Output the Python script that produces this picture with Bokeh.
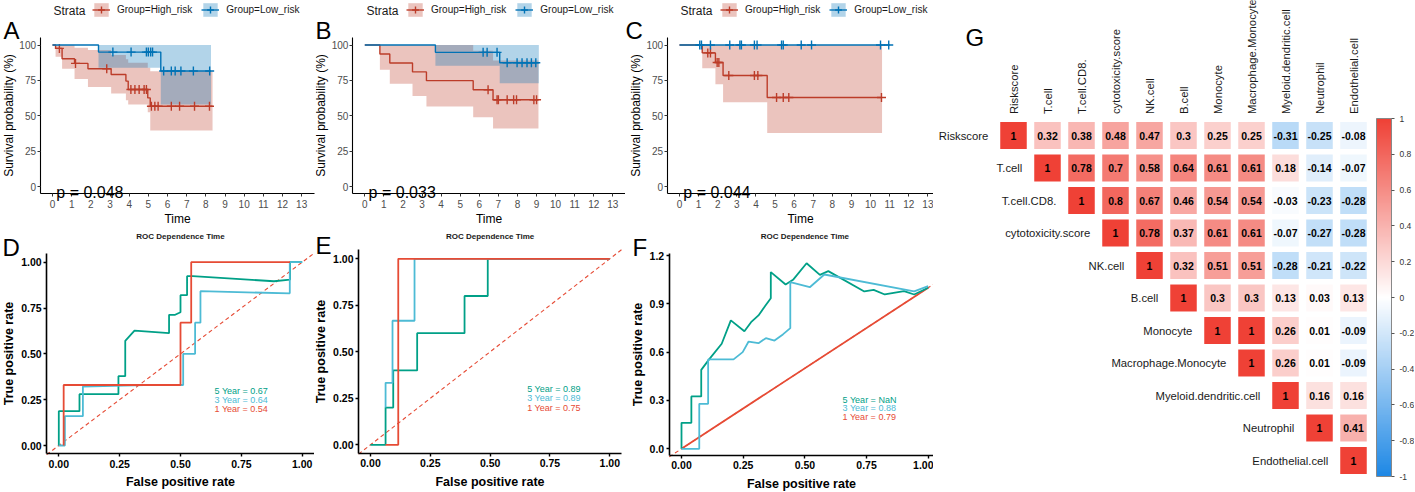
import numpy as np
from bokeh.plotting import figure
from bokeh.models import (Range1d, FixedTicker, Label, Legend, LegendItem, ColorBar,
                          LinearColorMapper, ColumnDataSource, NumeralTickFormatter)
from bokeh.layouts import row, column
from bokeh.embed import file_html
from bokeh.resources import INLINE
from bokeh.core.properties import value
from bokeh.transform import linear_cmap

FONT = "Liberation Sans"
RED_KM, BLUE_KM = "#BC3C29", "#0072B5"
C5, C3, C1 = "#00A087", "#4DBBD5", "#E64B35"

# ---------------- Kaplan-Meier data ----------------
A_high_t = [0, 0.16, 0.5, 1.15, 1.85, 3.06, 3.83, 3.95, 4.97, 5.1, 8.35]
A_high_s = [100, 97.6, 90.3, 87, 83.2, 79.2, 74.5, 68.6, 62.6, 56.7, 56.7]
A_high_lo = [100, 91.7, 83.2, 76, 70.4, 65.7, 61, 58, 52.5, 39.5, 39.5]
A_high_hi = [100, 100, 100, 98, 96.5, 93, 90, 87.5, 84, 81.5, 81.5]
A_high_cens = [0.36, 1.2, 2.83, 4.09, 4.3, 4.52, 4.78, 4.9, 5.16, 5.34, 5.51, 6.2, 6.63, 7.41, 8.19]
A_low_t = [0, 2.4, 5.65, 8.27]
A_low_s = [100, 95, 81.6, 81.6]
A_low_lo = [100, 84, 58, 58]
A_low_hi = [100, 100, 100, 100]
A_low_cens = [3.15, 4.1, 4.9, 5.0, 5.12, 5.22, 5.8, 6.2, 6.4, 6.7, 7.35, 8.2]
A_pval = "p = 0.048"

B_high_t = [0, 0.79, 1.31, 2.5, 3.23, 5.68, 6.72, 9.1]
B_high_s = [100, 93.6, 87.3, 81, 74.8, 68.4, 61.3, 61.3]
B_high_lo = [100, 82.5, 72.6, 63.9, 56.6, 49, 41, 41]
B_high_hi = [100, 100, 100, 100, 100, 96, 89, 89]
B_high_cens = [6.46, 6.93, 7.0, 7.46, 7.8, 7.95, 8.86, 9.0]
B_low_t = [0, 3.7, 7.07, 9.12]
B_low_s = [100, 94.8, 87.5, 87.5]
B_low_lo = [100, 85.4, 73, 73]
B_low_hi = [100, 100, 100, 100]
B_low_cens = [6.2, 6.41, 6.93, 7.46, 7.98, 8.24, 8.5, 8.73, 8.96]
B_pval = "p = 0.033"

C_high_t = [0, 1.19, 1.88, 2.28, 4.59, 10.6]
C_high_s = [100, 94.4, 87.6, 78.4, 62.9, 62.9]
C_high_lo = [100, 83.6, 72.3, 59.6, 37.8, 37.8]
C_high_hi = [100, 100, 100, 100, 100, 100]
C_high_cens = [1.48, 1.62, 1.97, 2.06, 2.58, 3.92, 4.1, 5.08, 5.43, 5.72, 10.57]
C_low_t = [0, 11.0]
C_low_s = [100, 100]
C_low_lo = [100, 100]
C_low_hi = [100, 100]
C_low_cens = [1.06, 1.15, 1.62, 2.63, 3.16, 3.24, 3.92, 4.06, 5.34, 5.43, 6.37, 6.91, 10.52, 10.95]
C_pval = "p = 0.044"

km_x_ticks = list(range(0, 14))
km_y_ticks = [0, 25, 50, 75, 100]
strata_labels = ["Group=High_risk", "Group=Low_risk"]

# ---------------- ROC data ----------------
D5_x = [0, 0, 0.085, 0.085, 0.245, 0.245, 0.273, 0.273, 0.311, 0.453, 0.453, 0.478, 0.5, 0.5, 0.527, 0.527, 0.55, 0.884, 0.95, 0.95, 1.0]
D5_y = [0, 0.187, 0.187, 0.28, 0.28, 0.378, 0.378, 0.571, 0.627, 0.613, 0.713, 0.713, 0.727, 0.82, 0.82, 0.924, 0.924, 0.896, 0.905, 1.0, 1.0]
D3_x = [0, 0.025, 0.025, 0.099, 0.099, 0.352, 0.511, 0.511, 0.56, 0.56, 0.582, 0.582, 0.949, 0.949, 1.0]
D3_y = [0, 0, 0.16, 0.16, 0.322, 0.33, 0.33, 0.5, 0.5, 0.67, 0.67, 0.842, 0.83, 1.0, 1.0]
D1_x = [0.02, 0.02, 0.5, 0.5, 0.544, 0.544, 0.95]
D1_y = [0, 0.33, 0.33, 0.67, 0.67, 1.0, 1.0]
D_auc = ["5 Year  =  0.67", "3 Year  =  0.64", "1 Year  =  0.54"]

E5_x = [0, 0.063, 0.063, 0.095, 0.095, 0.195, 0.195, 0.393, 0.393, 0.49, 0.49, 1.0]
E5_y = [0, 0, 0.2, 0.2, 0.4, 0.4, 0.6, 0.6, 0.8, 0.8, 1.0, 1.0]
E3_x = [0.063, 0.063, 0.092, 0.092, 0.184, 0.184, 1.0]
E3_y = [0.2, 0.333, 0.333, 0.667, 0.667, 1.0, 1.0]
E1_x = [0.063, 0.116, 0.116, 1.0]
E1_y = [0, 0, 1.0, 1.0]
E_auc = ["5 Year  =  0.89", "3 Year  =  0.89", "1 Year  =  0.75"]

F5_x = [0, 0, 0.04, 0.04, 0.08, 0.08, 0.112, 0.163, 0.2, 0.255, 0.282, 0.312, 0.339, 0.362, 0.362, 0.422, 0.452, 0.507, 0.561, 0.595, 0.741, 0.779, 0.824, 0.902, 0.943, 1.0]
F5_y = [0, 0.161, 0.161, 0.325, 0.325, 0.49, 0.555, 0.652, 0.797, 0.73, 0.786, 0.828, 0.886, 0.935, 1.097, 1.02, 1.049, 1.152, 1.08, 1.103, 0.977, 0.987, 0.958, 0.979, 0.958, 1.0]
F3_x = [0, 0.072, 0.072, 0.108, 0.108, 0.211, 0.248, 0.272, 0.312, 0.342, 0.377, 0.411, 0.441, 0.441, 0.52, 0.579, 0.943, 1.0]
F3_y = [0, 0, 0.279, 0.279, 0.555, 0.555, 0.6, 0.666, 0.656, 0.687, 0.672, 0.71, 0.749, 1.035, 1.003, 1.082, 0.977, 1.01]
F1_x = [0, 1.0]
F1_y = [0, 1.0]
F_auc = ["5 Year  =  NaN", "3 Year  =  0.88", "1 Year  =  0.79"]

roc_diag = [-0.05, 1.05]

# ---------------- Correlation data ----------------
G_vars = ["Riskscore", "T.cell", "T.cell.CD8.", "cytotoxicity.score", "NK.cell", "B.cell",
          "Monocyte", "Macrophage.Monocyte", "Myeloid.dendritic.cell", "Neutrophil", "Endothelial.cell"]
G_corr = [
    [1, 0.32, 0.38, 0.48, 0.47, 0.3, 0.25, 0.25, -0.31, -0.25, -0.08],
    [1, 0.78, 0.7, 0.58, 0.64, 0.61, 0.61, 0.18, -0.14, -0.07],
    [1, 0.8, 0.67, 0.46, 0.54, 0.54, -0.03, -0.23, -0.28],
    [1, 0.78, 0.37, 0.61, 0.61, -0.07, -0.27, -0.28],
    [1, 0.32, 0.51, 0.51, -0.28, -0.21, -0.22],
    [1, 0.3, 0.3, 0.13, 0.03, 0.13],
    [1, 1, 0.26, 0.01, -0.09],
    [1, 0.26, 0.01, -0.09],
    [1, 0.16, 0.16],
    [1, 0.41],
    [1],
]
G_cb_ticks = [-1, -0.8, -0.6, -0.4, -0.2, 0, 0.2, 0.4, 0.6, 0.8, 1]

TOP_H = 228
BOT_H = 263
TOTAL_H = TOP_H + BOT_H


def step_xy(t, v):
    xs, ys = [t[0]], [v[0]]
    for k in range(1, len(t)):
        xs += [t[k], t[k]]
        ys += [v[k - 1], v[k]]
    return xs, ys


def at_time(t, v, c):
    idx = np.searchsorted(np.array(t), np.array(c), side="right") - 1
    return [v[i] for i in idx]


def xr(f0, f1, p0, u0, p1, u1):
    s = (p1 - p0) / (u1 - u0)
    return Range1d(u0 + (f0 - p0) / s, u0 + (f1 - p0) / s)


def yr(ftop, fbot, p0, u0, p1, u1):
    s = (p1 - p0) / (u1 - u0)
    return Range1d(u0 + (fbot - p0) / s, u0 + (ftop - p0) / s)


def slabel(p, fx0, fy1, x, y, text, **kw):
    kw.setdefault("text_font", FONT)
    kw.setdefault("text_color", "black")
    p.add_layout(Label(x=x - fx0, y=fy1 - y, x_units="screen", y_units="screen", text=text, **kw))


def style_axes(p, tick_size, tick_color, lab_size, bold, line_w, tick_w):
    for ax in (p.xaxis[0], p.yaxis[0]):
        ax.axis_line_color = "black"
        ax.axis_line_width = line_w
        ax.major_tick_line_color = "black" if bold else "#333333"
        ax.major_tick_line_width = tick_w
        ax.major_tick_out = 3
        ax.major_tick_in = 0
        ax.minor_tick_line_color = None
        ax.major_label_text_font = FONT
        ax.major_label_text_font_size = tick_size
        ax.major_label_text_font_style = "bold" if bold else "normal"
        ax.major_label_text_color = tick_color
        ax.axis_label_text_font = FONT
        ax.axis_label_text_font_size = lab_size
        ax.axis_label_text_font_style = "bold" if bold else "normal"
        ax.axis_label_text_color = "black"


def km_panel(fx0, fx1, px0, px12, groups, pval, strata_x, key_x, letter, letter_x):
    fy0, fy1 = 0, TOP_H
    p = figure(width=fx1 - fx0, height=fy1 - fy0,
               x_range=xr(fx0, fx1, px0, 0, px12, 12), y_range=yr(fy0, fy1, 186, 0, 44.5, 100),
               min_border=0, toolbar_location=None, output_backend="svg",
               x_axis_label="Time", y_axis_label="Survival probability (%)")
    p.outline_line_color = None
    p.grid.visible = False
    items, bands = [], []
    for (t, s, lo, hi, cens, col) in groups:
        bx, blo = step_xy(t, lo)
        _, bhi = step_xy(t, hi)
        bands.append(p.varea(x=bx, y1=blo, y2=bhi, fill_color=col, fill_alpha=0.3))
    for (t, s, lo, hi, cens, col), lab, b in zip(groups, strata_labels, bands):
        ln = p.step(x=t, y=s, mode="after", line_color=col, line_width=1.4)
        cr = p.scatter(x=cens, y=at_time(t, s, cens), marker="cross", size=9,
                       line_color=col, line_width=1.4)
        items.append(LegendItem(label=lab, renderers=[b, ln, cr]))
    leg = Legend(items=items, orientation="horizontal", location=(key_x - fx0, fy1 - 18),
                 glyph_width=18, glyph_height=17, label_standoff=7, spacing=9, padding=0, margin=0,
                 border_line_alpha=0, background_fill_alpha=0,
                 label_text_font=FONT, label_text_font_size="10px", label_text_color="#1a1a1a")
    p.add_layout(leg, "center")
    slabel(p, fx0, fy1, strata_x, 10, "Strata", text_font_size="12px", text_baseline="middle",
           text_color="#1a1a1a")
    slabel(p, fx0, fy1, letter_x, 30, letter, text_font_size="24px", text_baseline="alphabetic")
    p.add_layout(Label(x=0.2, y=-4.3, text=pval, text_font=FONT, text_font_size="16px",
                       text_baseline="alphabetic", text_color="black"))
    style_axes(p, "10px", "#4D4D4D", "12px", False, 1.1, 1)
    p.xaxis.fixed_location = -5
    p.xaxis.bounds = (-0.65, 13.65)
    p.yaxis.fixed_location = -0.65
    p.yaxis.bounds = (-5, 105)
    p.xaxis.major_label_standoff = 3
    p.xaxis.axis_label_standoff = 1
    p.yaxis.major_label_standoff = 1
    p.yaxis.axis_label_standoff = 1
    p.xaxis.ticker = FixedTicker(ticks=km_x_ticks)
    p.yaxis.ticker = FixedTicker(ticks=km_y_ticks)
    return p


def roc_panel(fx0, fx1, xmap, ymap, ybot, ytop, curves, y_ticks, y_fmt, auc, auc_x, auc_ys,
              letter, letter_x, letter_y, solid_diag=None):
    fy0, fy1 = TOP_H, TOTAL_H
    p = figure(width=fx1 - fx0, height=fy1 - fy0,
               x_range=xr(fx0, fx1, *xmap), y_range=yr(fy0, fy1, *ymap),
               min_border=0, toolbar_location=None, output_backend="svg",
               x_axis_label="False positive rate", y_axis_label="True positive rate")
    p.outline_line_color = None
    p.grid.visible = False
    p.line(x=roc_diag, y=roc_diag, line_color=C1, line_dash="4 3", line_width=1.1)
    if solid_diag is not None:
        p.line(x=solid_diag[0], y=solid_diag[1], line_color=C1, line_width=1.8)
    for xs, ys, col in curves:
        p.line(x=xs, y=ys, line_color=col, line_width=1.8)
    src = ColumnDataSource(dict(x=[auc_x] * 3, y=auc_ys, t=auc, c=[C5, C3, C1]))
    p.text(x="x", y="y", text="t", text_color="c", source=src, text_font=value(FONT),
           text_font_size="9px", text_baseline="middle", text_align="left")
    mid = (xmap[0] + (xmap[2] - xmap[0]) * (0.5 - xmap[1]) / (xmap[3] - xmap[1]))
    slabel(p, fx0, fy1, mid, 236, "ROC Dependence Time", text_font_size="8px",
           text_font_style="bold", text_align="center", text_baseline="middle", text_color="#1a1a1a")
    slabel(p, fx0, fy1, letter_x, letter_y, letter, text_font_size="24px", text_baseline="alphabetic")
    style_axes(p, "10.5px", "black", "12.5px", True, 1.6, 1.4)
    p.xaxis.fixed_location = ybot
    p.xaxis.bounds = (-0.05, 1.05)
    p.yaxis.fixed_location = -0.05
    p.yaxis.bounds = (ybot, ytop)
    p.xaxis.major_label_standoff = 3
    p.xaxis.axis_label_standoff = 4
    p.yaxis.major_label_standoff = 2
    p.yaxis.axis_label_standoff = 2
    p.xaxis.ticker = FixedTicker(ticks=[0, 0.25, 0.5, 0.75, 1.0])
    p.xaxis.formatter = NumeralTickFormatter(format="0.00")
    p.yaxis.ticker = FixedTicker(ticks=y_ticks)
    p.yaxis.formatter = NumeralTickFormatter(format=y_fmt)
    return p


# ---- top row ----
pA = km_panel(0, 315, 52, 282,
              [(A_high_t, A_high_s, A_high_lo, A_high_hi, A_high_cens, RED_KM),
               (A_low_t, A_low_s, A_low_lo, A_low_hi, A_low_cens, BLUE_KM)],
              A_pval, 53, 92, "A", 3)
pB = km_panel(315, 625, 364.3, 593.3,
              [(B_high_t, B_high_s, B_high_lo, B_high_hi, B_high_cens, RED_KM),
               (B_low_t, B_low_s, B_low_lo, B_low_hi, B_low_cens, BLUE_KM)],
              B_pval, 366, 406, "B", 315)
pC = km_panel(625, 933, 679, 908.3,
              [(C_high_t, C_high_s, C_high_lo, C_high_hi, C_high_cens, RED_KM),
               (C_low_t, C_low_s, C_low_lo, C_low_hi, C_low_cens, BLUE_KM)],
              C_pval, 680, 720, "C", 625)

# ---- bottom row ----
pD = roc_panel(0, 314, (58.3, 0, 301.7, 1), (445, 0, 261.7, 1), -0.045, 1.05,
               [(D5_x, D5_y, C5), (D3_x, D3_y, C3), (D1_x, D1_y, C1)],
               [0, 0.25, 0.5, 0.75, 1.0], "0.00", D_auc, 0.64, [0.3, 0.25, 0.2], "D", 2, 247)
pE = roc_panel(314, 625, (370, 0, 609.3, 1), (444.3, 0, 258.3, 1), -0.045, 1.05,
               [(E5_x, E5_y, C5), (E3_x, E3_y, C3), (E1_x, E1_y, C1)],
               [0, 0.25, 0.5, 0.75, 1.0], "0.00", E_auc, 0.655, [0.3, 0.25, 0.2], "E", 315, 245)
pF = roc_panel(625, 933, (681, 0, 927.7, 1), (448.3, 0, 255, 1.2), -0.04, 1.21,
               [(F5_x, F5_y, C5), (F3_x, F3_y, C3)],
               [0, 0.3, 0.6, 0.9, 1.2], "0.0", F_auc, 0.653, [0.304, 0.252, 0.2], "F", 632, 247,
               solid_diag=(F1_x, F1_y))

# ---- correlation heatmap ----
RED_G = (239, 65, 54)
BLUE_G = (30, 136, 229)


def mix(c, t):
    return "#%02x%02x%02x" % tuple(int(round(255 + (ci - 255) * t)) for ci in c)


pal = [mix(BLUE_G, 1 - k / 100) for k in range(100)] + ["#ffffff"] + [mix(RED_G, k / 100) for k in range(1, 101)]
mapper = LinearColorMapper(palette=pal, low=-1, high=1)

cx, cy, cv, ct = [], [], [], []
for j, rowvals in enumerate(G_corr):
    for k, v in enumerate(rowvals):
        cx.append(j + k)
        cy.append(-j)
        cv.append(v)
        ct.append(f"{v:g}")
csrc = ColumnDataSource(dict(x=cx, y=cy, v=cv, t=ct))

GX0, GX1 = 933, 1414
pG = figure(width=GX1 - GX0, height=TOTAL_H,
            x_range=xr(GX0, GX1, 1013, 0, 1047, 1), y_range=yr(0, TOTAL_H, 135, 0, 167.5, -1),
            min_border=0, toolbar_location=None, output_backend="svg",
            x_axis_location=None, y_axis_location=None)
pG.outline_line_color = None
pG.grid.visible = False
pG.rect(x="x", y="y", width=0.78, height=0.83, source=csrc,
        fill_color=linear_cmap("v", pal, -1, 1), line_color=None)
pG.text(x="x", y="y", text="t", source=csrc, text_font=value(FONT), text_font_size="10.5px",
        text_font_style="bold", text_align="center", text_baseline="middle", text_color="black")
idx = list(range(len(G_vars)))
pG.text(x=idx, y=[0.66] * len(idx), text=G_vars, angle=np.pi / 2, text_font=value(FONT),
        text_font_size="11.3px", text_align="left", text_baseline="middle", text_color="#1a1a1a")
pG.text(x=[i - 0.74 for i in idx], y=[-i for i in idx], text=G_vars, text_font=value(FONT),
        text_font_size="11.3px", text_align="right", text_baseline="middle", text_color="#1a1a1a")
slabel(pG, GX0, TOTAL_H, 965, 37, "G", text_font_size="24px", text_baseline="alphabetic")
cb = ColorBar(color_mapper=mapper, location=(1376 - GX0, TOTAL_H - 476), width=15, height=358,
              padding=0, margin=0,
              ticker=FixedTicker(ticks=G_cb_ticks), formatter=NumeralTickFormatter(format="0.[0]"),
              major_label_text_font=FONT, major_label_text_font_size="8.5px",
              major_label_text_color="#333333", label_standoff=5,
              bar_line_color="#888888", major_tick_line_color="#555555", major_tick_in=0,
              major_tick_out=3, minor_tick_line_color=None,
              background_fill_alpha=0, border_line_alpha=0)
pG.add_layout(cb, "center")

layout = row(column(row(pA, pB, pC), row(pD, pE, pF)), pG)
open("out.html", "w").write(file_html(layout, INLINE))
